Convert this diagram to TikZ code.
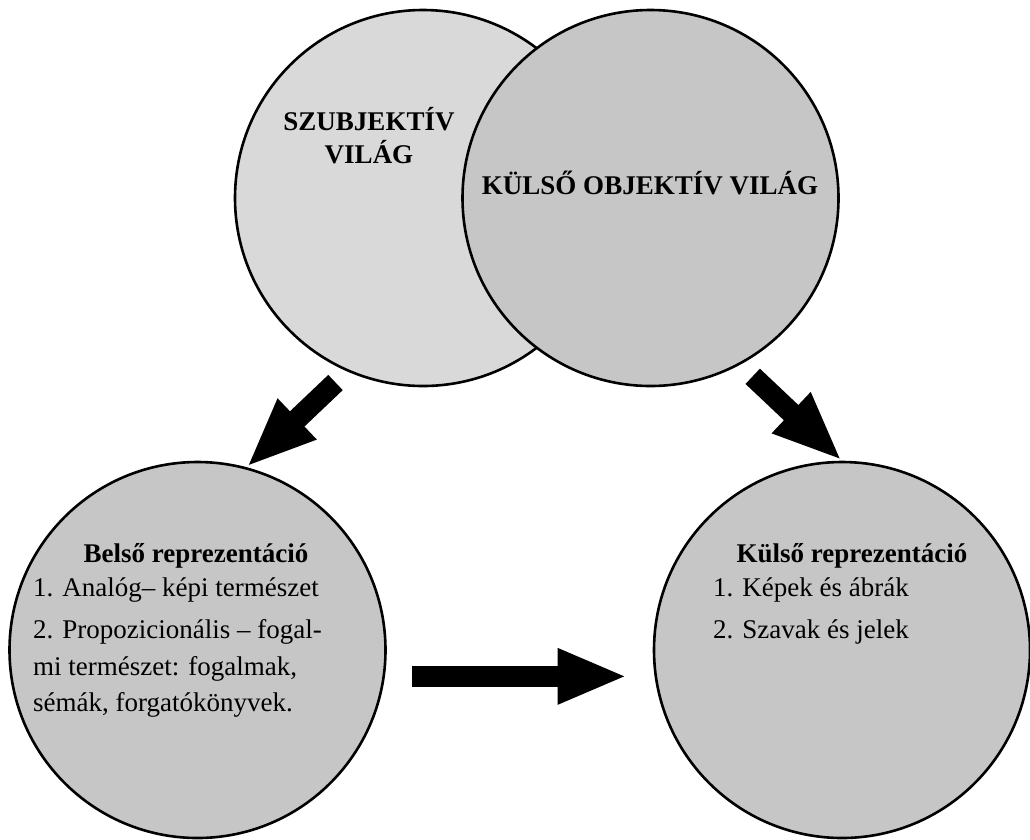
\documentclass[tikz,border=0pt]{standalone}
\usepackage{fontspec}
\setmainfont{Liberation Serif}
\usetikzlibrary{arrows.meta}
\definecolor{szurke1}{RGB}{217,217,217}
\definecolor{szurke2}{RGB}{198,198,198}
\tikzstyle{k1} = [circle, draw, line width=2.6pt, minimum size=376pt, inner sep=0pt, fill=szurke1]
\tikzstyle{k2} = [k1, fill=szurke2]
\tikzstyle{t1} = [font=\fontsize{27}{33}\selectfont\bfseries, align=center, inner sep=0pt]
\tikzstyle{t2} = [font=\fontsize{27}{36.5}\selectfont, align=left, inner sep=0pt]
\tikzstyle{ny} = [line width=21pt, -{Triangle[length=70pt, width=51pt]}]

\begin{document}
\begin{tikzpicture}[x=1pt, y=-1pt]
  \useasboundingbox (0,0) rectangle (1030,839);
  \node[k1] (szubj) at (423,198) {};
  \node[k2] (kulso) at (650.5,198) {};
  \node[k2] (belso) at (197.5,650) {};
  \node[k2] (kulsorep) at (842,650) {};
  \node[t1] (szubjszoveg) at (369,136) {SZUBJEKTÍV\\VILÁG};
  \node[t1] (kulsoszoveg) at (650,182.5) {KÜLSŐ OBJEKTÍV VILÁG};
  \node[t1] (belsocim) at (196,556) {Belső reprezentáció};
  \node[t2, anchor=north west] (belsolista) at (33,578)
    {1. Analóg– képi természet\\[5.5pt]
     2. Propozicionális – fogal-\\
     mi természet: fogalmak,\\
     sémák, forgatókönyvek.};
  \node[t1] (kulsocim) at (852,556) {Külső reprezentáció};
  \node[t2, anchor=north west] (kulsolista) at (713,578)
    {1. Képek és ábrák\\[5.5pt]
     2. Szavak és jelek};
  \coordinate (bal) at (335.5,382.5);
  \coordinate (jobb) at (752.7,376.3);
  \draw[ny] (bal) -- (belso.75);
  \draw[ny] (jobb) -- (kulsorep.90.6);
  \draw[ny, shorten <=27pt, shorten >=27pt] (belso.-8.7) -- (kulsorep.188.7);
\end{tikzpicture}
\end{document}
